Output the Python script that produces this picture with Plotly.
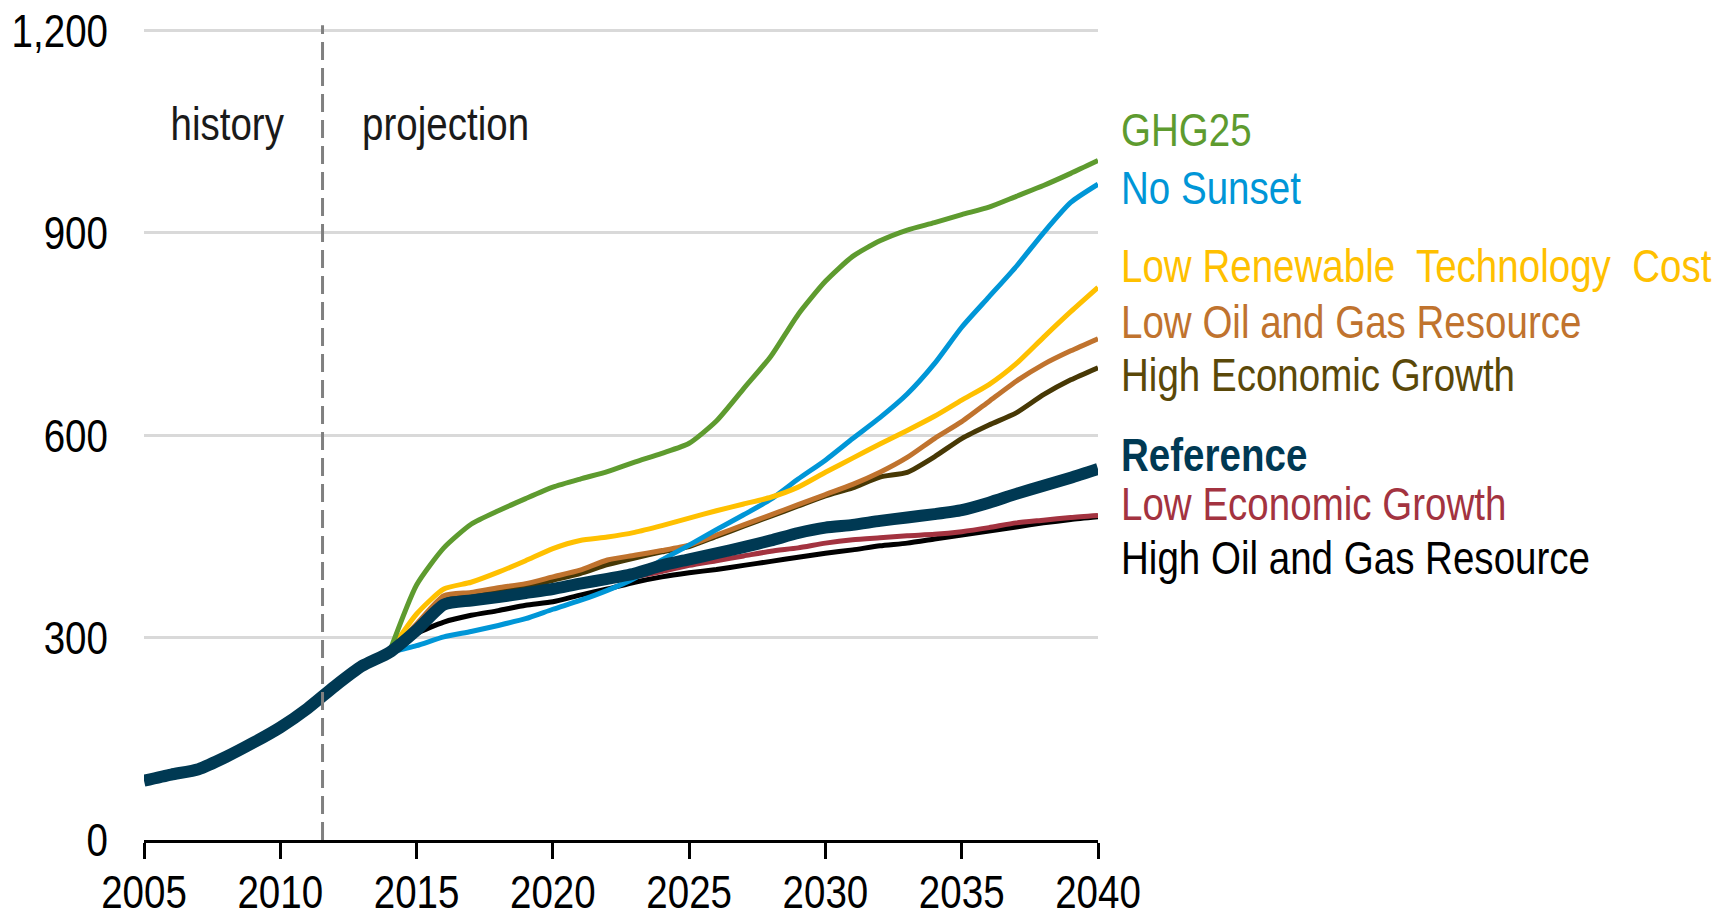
import plotly.graph_objects as go

# ---- data ----
years_ref = list(range(2005, 2041))
years_proj = list(range(2014, 2041))

reference = [88, 97, 105, 123, 144, 167, 195, 228, 258, 278,
             311, 349, 355, 360, 366, 372, 380, 387, 395, 407,
             416, 425, 434, 444, 455, 463, 467, 473, 478, 483,
             489, 500, 513, 525, 537, 550]

ghg25 = [278, 378, 433, 468, 488, 506, 523, 535, 546, 560, 573, 588, 621, 669,
         717, 779, 828, 865, 888, 904, 915, 927, 938, 954, 970, 988, 1007]
no_sunset = [278, 288, 301, 309, 318, 328, 342, 355, 370, 388, 415, 437, 460, 482,
             505, 535, 563, 595, 626, 661, 706, 760, 805, 850, 900, 945, 972]
low_renew = [278, 335, 372, 382, 397, 414, 432, 444, 449, 456, 466, 477, 488, 498,
             508, 523, 545, 566, 587, 607, 628, 652, 675, 706, 745, 783, 819]
low_oilgas = [278, 320, 362, 367, 374, 380, 390, 400, 415, 422, 429, 437, 452, 467,
              482, 497, 512, 527, 545, 567, 595, 620, 650, 680, 705, 725, 743]
high_econ = [278, 315, 355, 362, 368, 375, 385, 395, 408, 418, 427, 435, 450, 465,
             480, 495, 510, 522, 538, 545, 568, 595, 615, 633, 660, 682, 700]
low_econ = [278, 311, 345, 352, 357, 362, 369, 376, 383, 390, 398, 407, 414, 421,
            428, 433, 440, 445, 448, 451, 453, 457, 463, 470, 474, 478, 481]
high_oilgas = [278, 306, 323, 333, 340, 348, 353, 363, 372, 382, 390, 396, 401, 407,
               413, 419, 425, 430, 436, 440, 446, 452, 458, 464, 470, 475, 479]

labels = ["GHG25", "No Sunset", "Low Renewable  Technology  Cost",
          "Low Oil and Gas Resource", "High Economic Growth", "Reference",
          "Low Economic Growth", "High Oil and Gas Resource"]
label_y = [1053, 967, 851, 769, 690, 572, 499, 418]

y_ticks = [0, 300, 600, 900, 1200]
x_ticks = [2005, 2010, 2015, 2020, 2025, 2030, 2035, 2040]

# ---- styles ----
FONT = "Liberation Sans, Arial, sans-serif"
FS = 47
C_GREEN = "#5E9B2F"
C_BLUE = "#0096D7"
C_YELLOW = "#FFC000"
C_BROWN = "#C0732E"
C_DKBROWN = "#473805"
C_NAVY = "#003953"
C_RED = "#A33340"
C_BLACK = "#000000"
THIN = 5
THICK = 12

fig = go.Figure()

def add(x, y, color, width, name):
    fig.add_trace(go.Scatter(x=x, y=y, mode="lines", name=name,
                             line=dict(color=color, width=width, shape="spline", smoothing=0.6),
                             hoverinfo="x+y+name"))

add(years_proj, high_oilgas, C_BLACK, THIN, labels[7])
add(years_proj, low_econ, C_RED, THIN, labels[6])
add(years_proj, high_econ, C_DKBROWN, THIN, labels[4])
add(years_proj, low_oilgas, C_BROWN, THIN, labels[3])
add(years_proj, no_sunset, C_BLUE, THIN, labels[1])
add(years_proj, low_renew, C_YELLOW, THIN, labels[2])
add(years_proj, ghg25, C_GREEN, THIN, labels[0])
add(years_ref, reference, C_NAVY, THICK, labels[5])

colors = [C_GREEN, C_BLUE, C_YELLOW, C_BROWN, "#5A4808", C_NAVY, C_RED, C_BLACK]
annotations = []
for lab, yv, col in zip(labels, label_y, colors):
    txt = "<b>%s</b>" % lab if lab == "Reference" else lab
    annotations.append(dict(x=1.022, xref="paper", y=yv, yref="y", text=txt,
                            showarrow=False, xanchor="left", yanchor="middle", align="left",
                            font=dict(family=FONT, size=FS, color=col)))

annotations.append(dict(x=2008.05, y=1062, xref="x", yref="y", text="history",
                        showarrow=False, xanchor="center", yanchor="middle",
                        font=dict(family=FONT, size=FS, color="#1a1a1a")))
annotations.append(dict(x=2012.94, y=1062, xref="x", yref="y", text="projection",
                        showarrow=False, xanchor="left", yanchor="middle", align="left",
                        font=dict(family=FONT, size=FS, color="#1a1a1a")))

# page body has an 8px margin, so the figure is drawn 8px in from the top-left.
# y range runs a hair above 1,200 so that the 1,200 grid line is kept.
Y_TOP = 1202
fig.update_layout(
    width=1723, height=905,
    margin=dict(l=136, r=633, t=20.65, b=73, autoexpand=False),
    paper_bgcolor="white", plot_bgcolor="white",
    showlegend=False,
    font=dict(family=FONT, size=FS, color="#000000"),
    annotations=annotations,
    shapes=[dict(type="line", xref="x", yref="paper", x0=2011.55, x1=2011.55,
                 y0=0, y1=1.0045, line=dict(color="#808080", width=3, dash="18px,8px"))],
)

fig.update_xaxes(range=[2005, 2040], tickvals=x_ticks, ticks="outside", ticklen=16,
                 tickwidth=3, tickcolor="black", showline=True, linecolor="black",
                 linewidth=3, showgrid=False, zeroline=False, automargin=False,
                 ticklabelstandoff=-7, ticklabeloverflow="allow",
                 tickfont=dict(family=FONT, size=FS, color="#000000"))
fig.update_yaxes(range=[0, Y_TOP], tickvals=y_ticks, tickformat=",", showgrid=True,
                 gridcolor="#d9d9d9", gridwidth=3, zeroline=False, showline=False,
                 ticks="", ticklabelstandoff=35, automargin=False,
                 ticklabeloverflow="allow",
                 tickfont=dict(family=FONT, size=FS, color="#000000"))

# narrow (Arial Narrow-like) text: compress each text horizontally about its anchor
condense_js = """
var gd = document.getElementById('{plot_id}');
function condense(){
  var ts = gd.querySelectorAll('text');
  for (var i = 0; i < ts.length; i++) {
    var t = ts[i];
    if (t.getAttribute('data-cx')) continue;
    var x = parseFloat(t.getAttribute('x')) || 0;
    var tr = t.getAttribute('transform') || '';
    t.setAttribute('transform', tr + ' translate(' + x + ',0) scale(0.82,1) translate(' + (-x) + ',0)');
    t.setAttribute('data-cx', '1');
  }
}
condense();
"""

fig.write_html("out.html", post_script=condense_js)
